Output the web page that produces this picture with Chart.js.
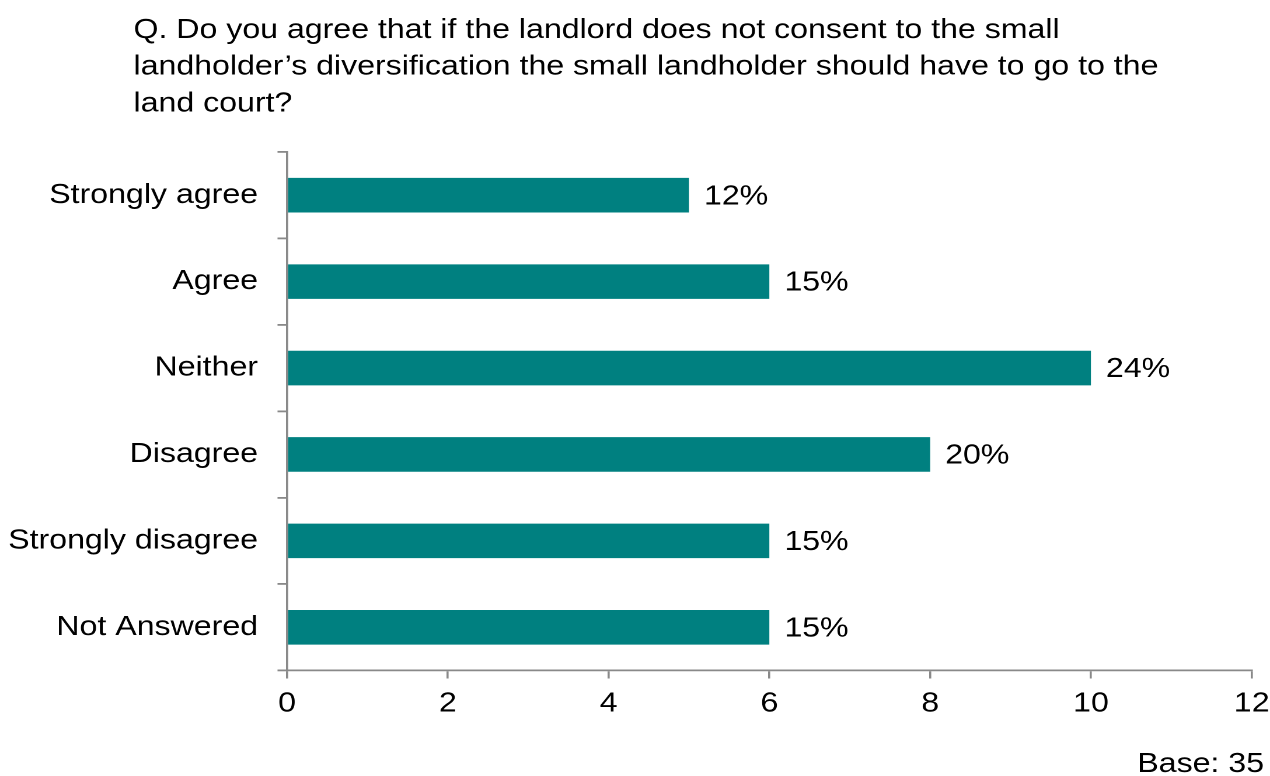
<!DOCTYPE html>
<html>
<head>
<meta charset="utf-8">
<script src="https://cdn.jsdelivr.net/npm/chart.js@4.4.1/dist/chart.umd.min.js"></script>
<style>
html,body{margin:0;padding:0;background:#ffffff;overflow:hidden;}
</style>
</head>
<body>
<canvas id="c" width="1088" height="776" style="width:1270px;height:776px;"></canvas>
<script>
// ---- data ----
const categories = ['Strongly agree', 'Agree', 'Neither', 'Disagree', 'Strongly disagree', 'Not Answered'];
const counts = [5, 6, 10, 8, 6, 6];
const percentLabels = ['12%', '15%', '24%', '20%', '15%', '15%'];
const xMin = 0;
const xMax = 12;
const xStep = 2;
const titleLines = [
  'Q. Do you agree that if the landlord does not consent to the small',
  'landholder\u2019s diversification the small landholder should have to go to the',
  'land court?'
];
const baseNote = 'Base: 35';

// ---- styles ----
const CANVAS_W = 1088;
const S = 1270 / CANVAS_W; // horizontal stretch of the whole picture
const FONT_FAMILY = '"Liberation Sans", Arial, Helvetica, sans-serif';
const FONT_SIZE = 27.5;
const BAR_COLOR = '#008080';
const AXIS_COLOR = '#898989';
const TEXT_COLOR = '#000000';

const textPlugin = {
  id: 'textPlugin',
  afterDatasetsDraw(chart) {
    const ctx = chart.ctx;
    ctx.save();
    ctx.font = FONT_SIZE + 'px ' + FONT_FAMILY;
    ctx.fillStyle = TEXT_COLOR;
    // value labels
    ctx.textAlign = 'left';
    ctx.textBaseline = 'middle';
    const meta = chart.getDatasetMeta(0);
    meta.data.forEach((bar, i) => {
      ctx.fillText(percentLabels[i], bar.x + 15 / S, bar.y + 1.5);
    });
    // title
    ctx.textBaseline = 'alphabetic';
    titleLines.forEach((line, i) => {
      ctx.fillText(line, 133.5 / S, 38 + i * 36.7);
    });
    // base note
    ctx.textAlign = 'right';
    ctx.fillText(baseNote, 1264 / S, 772);
    ctx.restore();
  }
};

new Chart(document.getElementById('c'), {
  type: 'bar',
  data: {
    labels: categories,
    datasets: [{
      data: counts,
      backgroundColor: BAR_COLOR,
      borderWidth: 0,
      barPercentage: 0.4,
      categoryPercentage: 1.0
    }]
  },
  options: {
    indexAxis: 'y',
    responsive: false,
    animation: false,
    devicePixelRatio: 2,
    layout: { padding: { top: 152, right: (1270 - 1251.7) / S, bottom: 0, left: 0 } },
    plugins: {
      legend: { display: false },
      tooltip: { enabled: false },
      title: { display: false }
    },
    scales: {
      x: {
        min: xMin,
        max: xMax,
        ticks: {
          stepSize: xStep,
          color: TEXT_COLOR,
          font: { family: FONT_FAMILY, size: FONT_SIZE },
          padding: 9,
          maxRotation: 0
        },
        grid: {
          drawOnChartArea: false,
          drawTicks: true,
          tickLength: 8,
          color: AXIS_COLOR,
          lineWidth: 1.8
        },
        border: { display: true, color: AXIS_COLOR, width: 1.8 },
        afterFit(scale) {
          scale.height = 105.5;
          scale.paddingLeft = 0;
          scale.paddingRight = 0;
        }
      },
      y: {
        ticks: {
          color: TEXT_COLOR,
          font: { family: FONT_FAMILY, size: FONT_SIZE },
          padding: 19.5 / S
        },
        grid: {
          offset: true,
          drawOnChartArea: false,
          drawTicks: true,
          tickLength: 9.5 / S,
          color: AXIS_COLOR,
          lineWidth: 1.8
        },
        border: { display: true, color: AXIS_COLOR, width: 1.8 },
        afterFit(scale) {
          scale.width = 287 / S;
          scale.paddingTop = 0;
          scale.paddingBottom = 0;
        }
      }
    }
  },
  plugins: [textPlugin]
});
</script>
</body>
</html>
